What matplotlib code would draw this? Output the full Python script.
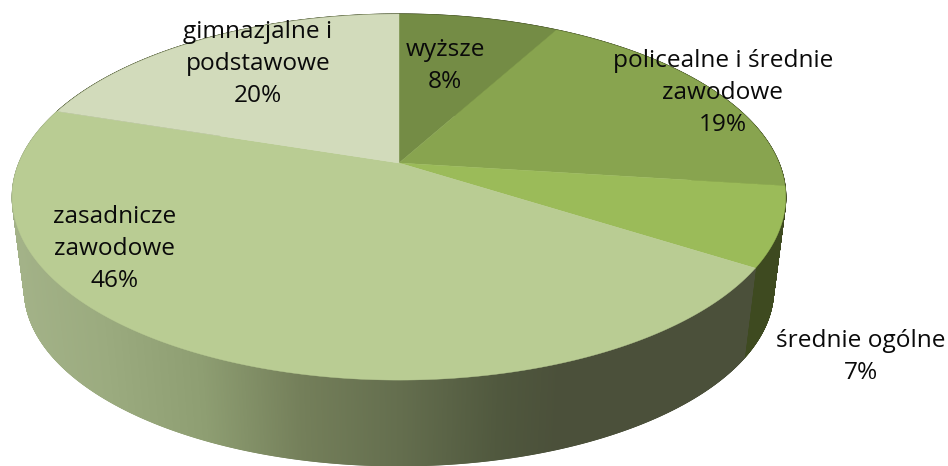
import numpy as np
import matplotlib
matplotlib.use("Agg")
import matplotlib.pyplot as plt
from matplotlib.collections import PolyCollection
from matplotlib.colors import to_rgb
from matplotlib.patches import Polygon

categories = ["wyższe", "policealne i średnie\nzawodowe", "średnie ogólne",
              "zasadnicze\nzawodowe", "gimnazjalne i\npodstawowe"]
values = [8, 19, 7, 46, 20]
colors = ["#748C45", "#88A44F", "#9BBB59", "#B9CC93", "#D2DBBB"]
label_xy = [(445, 66), (723, 93), (861, 357), (115, 249), (258, 64)]

# perspective projection of the pie disc onto pixel space
K = 0.186
TOP = dict(cx=399, cy=163, a=380, b=176.7)
BOT = dict(cx=399, cy=257, a=368, b=170)


def project(theta, r, p):
    X = r * np.sin(theta)
    Y = r * np.cos(theta)
    w = 1 + K * Y
    return p["cx"] + p["a"] * X / w, p["cy"] - p["b"] * Y / w


def wall_color(x):
    stops_x = [10, 100, 200, 300, 400, 500, 560, 760]
    stops = [to_rgb(c) for c in ["#A3B288", "#9BAB7F", "#8E9E72", "#747F5A",
                                 "#646E4E", "#50583E", "#4B503A", "#4B503A"]]
    return [np.interp(x, stops_x, [s[i] for s in stops]) for i in range(3)]


fig = plt.figure(figsize=(9.48, 4.66), dpi=100)
ax = fig.add_axes([0, 0, 1, 1])
ax.set_xlim(0, 948)
ax.set_ylim(466, 0)
ax.axis("off")

edges = np.cumsum([0] + values) / sum(values) * 2 * np.pi

# side wall
quads, qcols = [], []
for i in range(len(values)):
    n = max(2, int(values[i] * 30))
    t = np.linspace(edges[i], edges[i + 1], n + 1)
    for t0, t1 in zip(t[:-1], t[1:]):
        x0, y0 = project(t0, 1, TOP)
        x1, y1 = project(t1, 1, TOP)
        x2, y2 = project(t1, 1, BOT)
        x3, y3 = project(t0, 1, BOT)
        quads.append([(x0, y0), (x1, y1), (x2, y2), (x3, y3)])
        if i == 3:
            qcols.append(wall_color((x0 + x1) / 2))
        else:
            qcols.append(to_rgb("#3E4A20"))
ax.add_collection(PolyCollection(quads, facecolors=qcols, edgecolors=qcols, linewidths=0.8))

# top face
for i in range(len(values)):
    t = np.linspace(edges[i], edges[i + 1], 200)
    xs, ys = project(t, 1, TOP)
    pts = [(TOP["cx"], TOP["cy"])] + list(zip(xs, ys))
    ax.add_patch(Polygon(pts, closed=True, facecolor=colors[i], edgecolor=colors[i], linewidth=0.3))

# labels
for name, v, (x, y) in zip(categories, values, label_xy):
    ax.text(x, y, f"{name}\n{v}%", ha="center", va="center", family="Open Sans",
            fontsize=17.6, color="#0a0a0a", linespacing=1.42)

fig.savefig("out.png", dpi=100, facecolor="white")
